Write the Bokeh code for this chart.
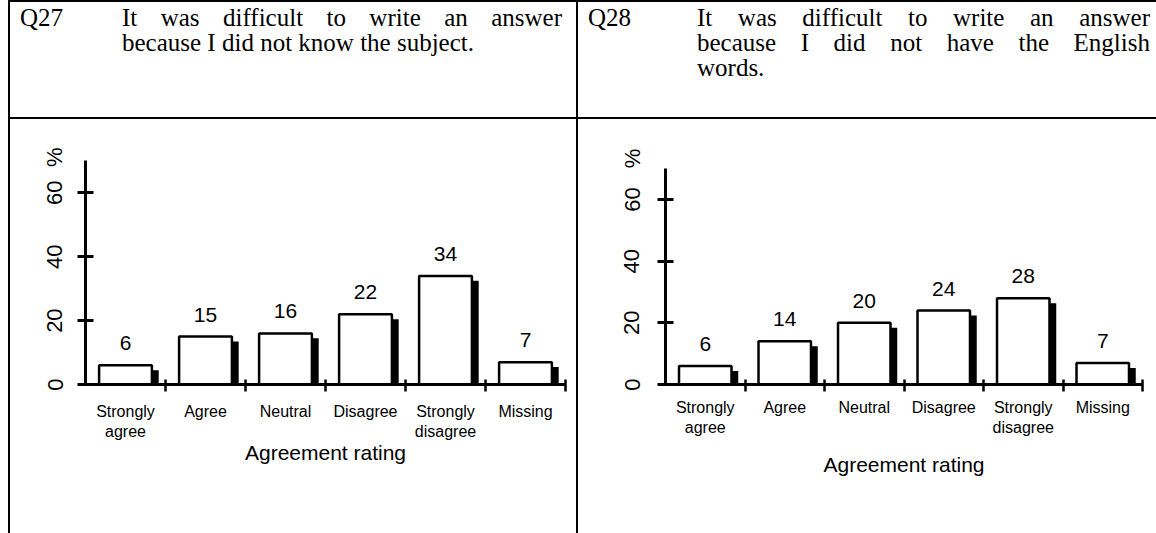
from bokeh.plotting import figure
from bokeh.models import Range1d, FixedTicker, LinearAxis, Div, ColumnDataSource, Spacer
from bokeh.layouts import row, column
from bokeh.embed import file_html
from bokeh.resources import INLINE
from bokeh.core.properties import value

# ---------------- data ----------------
categories = ["Strongly\nagree", "Agree", "Neutral", "Disagree", "Strongly\ndisagree", "Missing"]
q27_values = [6, 15, 16, 22, 34, 7]
q28_values = [6, 14, 20, 24, 28, 7]
y_ticks = [0, 20, 40, 60]
q27_id = "Q27"
q27_lines = ["It was difficult to write an answer", "because I did not know the subject."]
q28_id = "Q28"
q28_lines = ["It was difficult to write an answer", "because I did not have the English", "words."]
x_title = "Agreement rating"
y_unit = "%"

SANS = "Liberation Sans"
SERIF = "Liberation Serif"
ROW_H = 414


def header(qid, lines, width, text_left, text_width):
    parts = []
    for i, ln in enumerate(lines):
        last = (i == len(lines) - 1)
        align = "text-align:left;" if last else "text-align:justify;text-align-last:justify;"
        parts.append(f'<div style="{align}white-space:nowrap;height:25px;">{ln}</div>')
    html = (
        f'<div style="position:relative;width:{width}px;height:119px;box-sizing:border-box;'
        f'border-top:2px solid #000;border-left:2px solid #000;border-bottom:2px solid #000;'
        f"font-family:'{SERIF}';font-size:25px;line-height:25px;color:#000;\">"
        f'<div style="position:absolute;left:10px;top:3px;">{qid}</div>'
        f'<div style="position:absolute;left:{text_left}px;top:3px;width:{text_width}px;">'
        + "".join(parts) + '</div></div>'
    )
    return Div(text=html, width=width, height=119, margin=0)


def vline(h):
    return Div(text=f'<div style="width:2px;height:{h}px;background:#000;"></div>',
               width=2, height=h, margin=0)


def chart(values, width, left, right, top, bottom, px_per_unit, axis_top_px, pct_px,
          tick_standoff, cat_standoff, title_standoff):
    n = len(categories)
    height = ROW_H
    frame_h = height - top - bottom
    ymax = frame_h / px_per_unit
    axis_top = axis_top_px / px_per_unit      # where the drawn y axis ends
    pct_pos = pct_px / px_per_unit            # where the "%" sign sits
    shadow_drop = 5 / px_per_unit

    p = figure(width=width, height=height, x_range=Range1d(0, n), y_range=Range1d(0, ymax),
               toolbar_location=None, output_backend="svg",
               x_axis_type=None, y_axis_type=None,
               min_border_left=left, min_border_right=right,
               min_border_top=top, min_border_bottom=bottom,
               outline_line_color=None, background_fill_color="white",
               border_fill_color="white", margin=0)

    idx = list(range(n))
    src = ColumnDataSource(dict(
        bl=[i + 0.17 for i in idx], br=[i + 0.83 for i in idx],
        sl=[i + 0.83 for i in idx], sr=[i + 0.915 for i in idx],
        top=values, stop=[v - shadow_drop for v in values],
        xc=[i + 0.5 for i in idx], lab=[str(v) for v in values],
    ))
    p.quad(left="sl", right="sr", bottom=0, top="stop", source=src,
           fill_color="black", line_color=None)
    p.quad(left="bl", right="br", bottom=0, top="top", source=src,
           fill_color="white", line_color="black", line_width=2.5)
    p.text(x="xc", y="top", text="lab", source=src, text_align="center",
           text_baseline="middle", y_offset=-22, text_font=value(SANS),
           text_font_size="21px", text_color="black")

    # y axis line with crossing ticks (no labels)
    yaxis = LinearAxis(ticker=FixedTicker(ticks=y_ticks, minor_ticks=[]),
                       bounds=(0, axis_top),
                       axis_line_width=3, axis_line_color="black",
                       major_tick_in=8, major_tick_out=8, major_tick_line_width=3,
                       major_tick_line_color="black", minor_tick_line_color=None,
                       major_label_overrides={t: "" for t in y_ticks},
                       major_label_text_font_size="1px", major_label_standoff=0)
    p.add_layout(yaxis, "left")

    # y tick labels plus the "%" unit, rotated like the reference
    label_ticks = y_ticks + [pct_pos]
    ylabels = LinearAxis(ticker=FixedTicker(ticks=label_ticks, minor_ticks=[]),
                         axis_line_color=None, major_tick_line_color=None,
                         minor_tick_line_color=None, major_tick_in=0, major_tick_out=0,
                         major_label_overrides={pct_pos: y_unit},
                         major_label_orientation="parallel",
                         major_label_text_font=SANS, major_label_text_font_size="22px",
                         major_label_text_color="black", major_label_standoff=tick_standoff)
    p.add_layout(ylabels, "left")

    centers = [i + 0.5 for i in idx]
    xaxis = LinearAxis(ticker=FixedTicker(ticks=centers, minor_ticks=[i + 1 for i in idx]),
                       major_label_overrides={c: lab for c, lab in zip(centers, categories)},
                       axis_line_width=3, axis_line_color="black",
                       major_tick_line_color=None, major_tick_in=0, major_tick_out=0,
                       minor_tick_in=5, minor_tick_out=7, minor_tick_line_width=2.5,
                       minor_tick_line_color="black",
                       major_label_text_font=SANS, major_label_text_font_size="16px",
                       major_label_text_color="black", major_label_standoff=cat_standoff,
                       axis_label=x_title, axis_label_text_font=SANS,
                       axis_label_text_font_size="21px", axis_label_text_font_style="normal",
                       axis_label_text_color="black", axis_label_standoff=title_standoff)
    p.add_layout(xaxis, "below")
    return p


h1 = header(q27_id, q27_lines, 568, 112, 440)
h2 = header(q28_id, q28_lines, 580, 119, 453)

# chart 1: frame 480x247, zero line 268px below the row top
c1 = chart(q27_values, 566, 75, 11, 21, 146, 194 / 60, 227, 230, 10, 11, -2)
# chart 2: frame 477x244
c2 = chart(q28_values, 578, 87, 14, 21, 149, 185 / 60, 216, 226, 13, 7, 14)

layout = row(Spacer(width=8, height=10, margin=0),
             column(row(h1, h2), row(vline(ROW_H), c1, vline(ROW_H), c2)))

open("out.html", "w").write(file_html(layout, INLINE))
